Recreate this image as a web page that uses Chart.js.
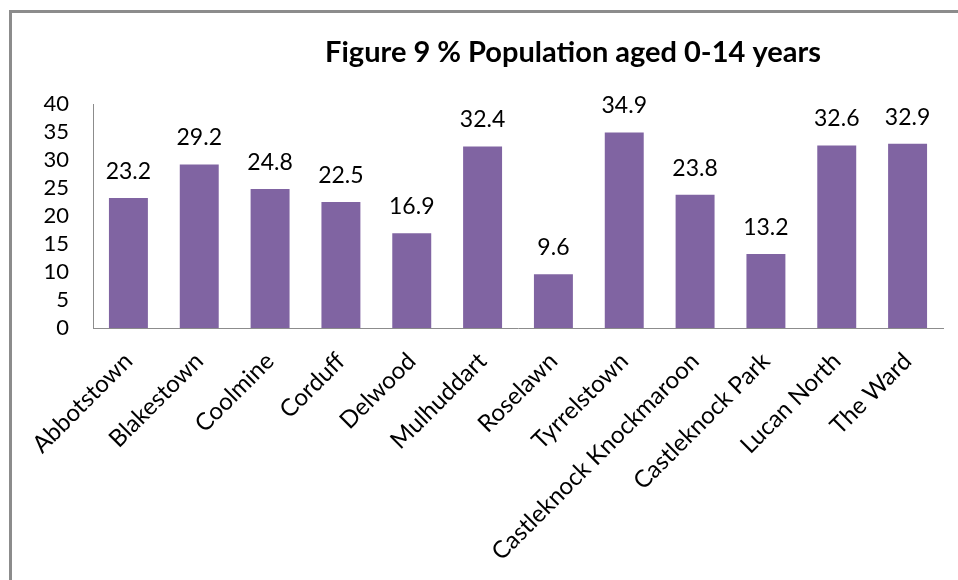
<!DOCTYPE html>
<html>
<head>
<meta charset="utf-8">
<script src="https://cdn.jsdelivr.net/npm/chart.js@4/dist/chart.umd.min.js"></script>
<style>
  html, body { margin: 0; padding: 0; background: #fff; }
  #wrap { position: relative; width: 958px; height: 580px; overflow: hidden; }
  #frame { position: absolute; left: 9px; top: 10px; right: -10px; bottom: -10px;
           border-left: 3px solid #8c8c8c; border-top: 3px solid #8c8c8c; }
  canvas { position: absolute; left: 0; top: 0; }
</style>
</head>
<body>
<div id="wrap">
  <div id="frame"></div>
  <canvas id="c" width="958" height="580"></canvas>
</div>
<script>
const titleText = 'Figure 9 % Population aged 0-14 years';
const areas = ['Abbotstown', 'Blakestown', 'Coolmine', 'Corduff', 'Delwood', 'Mulhuddart',
               'Roselawn', 'Tyrrelstown', 'Castleknock Knockmaroon', 'Castleknock Park',
               'Lucan North', 'The Ward'];
const pctAged0to14 = [23.2, 29.2, 24.8, 22.5, 16.9, 32.4, 9.6, 34.9, 23.8, 13.2, 32.6, 32.9];
const yTicks = [0, 5, 10, 15, 20, 25, 30, 35, 40];

const FONT = 'Lato, "Open Sans", sans-serif';

// Title and value labels drawn onto the canvas
const annotate = {
  id: 'annotate',
  afterDatasetsDraw(chart) {
    const ctx = chart.ctx;
    ctx.save();
    ctx.fillStyle = '#000';
    ctx.font = 'bold 29px ' + FONT;
    ctx.textAlign = 'center';
    ctx.textBaseline = 'middle';
    ctx.fillText(titleText, 573, 53);

    ctx.font = '23px ' + FONT;
    ctx.textBaseline = 'bottom';
    const meta = chart.getDatasetMeta(0);
    meta.data.forEach((bar, i) => {
      ctx.fillText(pctAged0to14[i].toFixed(1), bar.x, bar.y - 15);
    });
    ctx.restore();
  }
};

new Chart(document.getElementById('c'), {
  type: 'bar',
  data: {
    labels: areas,
    datasets: [{
      data: pctAged0to14,
      backgroundColor: '#8064A2',
      borderWidth: 0,
      categoryPercentage: 1,
      barPercentage: 0.55
    }]
  },
  options: {
    responsive: false,
    animation: false,
    devicePixelRatio: 1,
    layout: { padding: { top: 104, right: 15, left: 0, bottom: 0 } },
    plugins: { legend: { display: false }, title: { display: false }, tooltip: { enabled: false } },
    scales: {
      x: {
        grid: { display: false, drawTicks: false },
        border: { display: true, color: '#8c8c8c', width: 1 },
        ticks: {
          color: '#000', font: { family: FONT, size: 24 },
          minRotation: 45, maxRotation: 45, autoSkip: false, padding: 19
        },
        afterFit(scale) { scale.height = 252; }
      },
      y: {
        min: 0, max: 40,
        grid: { display: false, drawTicks: false },
        border: { display: true, color: '#8c8c8c', width: 1 },
        afterBuildTicks(scale) { scale.ticks = yTicks.map(v => ({ value: v })); },
        ticks: { color: '#000', font: { family: FONT, size: 22 }, padding: 24,
                 autoSkip: false, stepSize: 5 },
        afterFit(scale) { scale.width = 93; }
      }
    }
  },
  plugins: [annotate]
});
</script>
</body>
</html>
